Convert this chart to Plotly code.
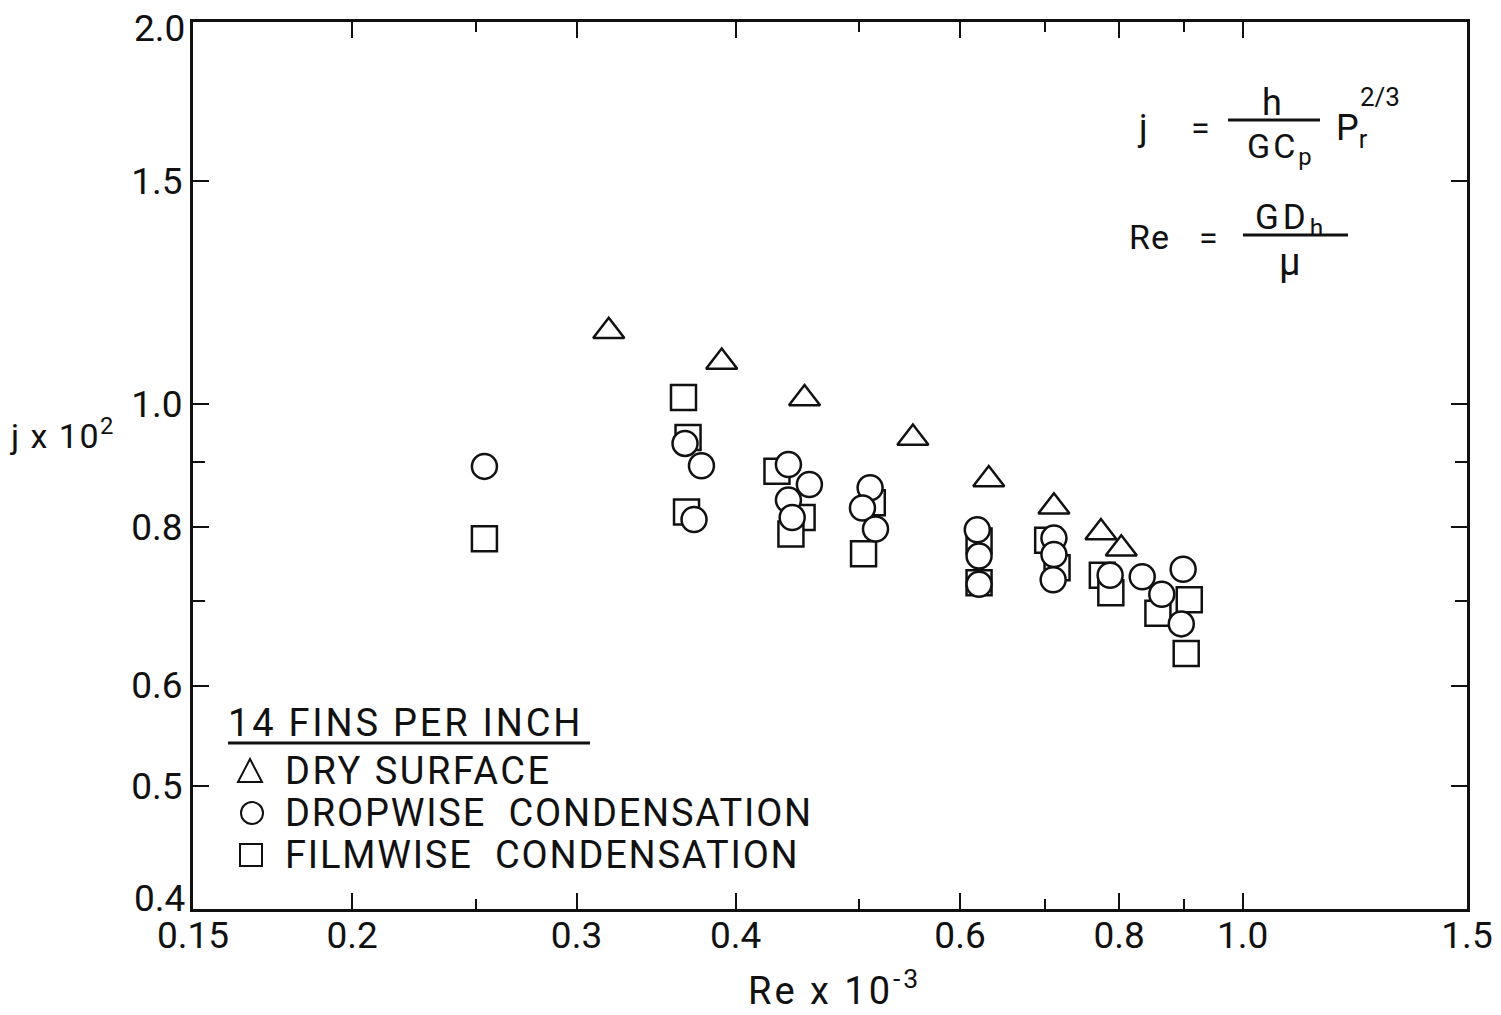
import math
import plotly.graph_objects as go

# Colburn j-factor vs. Reynolds number, 14 fins per inch
dry_re = [0.318, 0.390, 0.453, 0.551, 0.632, 0.711, 0.774, 0.803]
dry_j = [1.141, 1.079, 1.010, 0.940, 0.872, 0.830, 0.792, 0.769]

drop_re = [0.254, 0.365, 0.376, 0.371, 0.440, 0.457, 0.440, 0.443, 0.510, 0.503, 0.515,
           0.619, 0.621, 0.621, 0.711, 0.711, 0.710, 0.787, 0.834, 0.864, 0.898, 0.895]
drop_j = [0.893, 0.931, 0.894, 0.811, 0.896, 0.864, 0.840, 0.814, 0.859, 0.828, 0.797,
          0.796, 0.759, 0.721, 0.784, 0.761, 0.727, 0.733, 0.731, 0.708, 0.741, 0.671]

film_re = [0.254, 0.364, 0.367, 0.366, 0.431, 0.451, 0.442, 0.512, 0.504,
           0.621, 0.621, 0.703, 0.715, 0.776, 0.788, 0.858, 0.908, 0.903]
film_j = [0.783, 1.012, 0.941, 0.822, 0.885, 0.814, 0.790, 0.836, 0.762,
          0.780, 0.723, 0.781, 0.743, 0.733, 0.710, 0.684, 0.701, 0.636]

x_major = [0.15, 0.2, 0.3, 0.4, 0.6, 0.8, 1.0, 1.5]
x_major_text = ["0.15", "0.2", "0.3", "0.4", "0.6", "0.8", "1.0", "1.5"]
x_minor = [0.25, 0.5, 0.7, 0.9]
# the end labels of the j axis sit just inside the frame corners
y_major = [0.4, 0.5, 0.6, 0.8, 1.0, 1.5, 2.0]
y_major_text = ["", "0.5", "0.6", "0.8", "1.0", "1.5", ""]
y_end_labels = [("0.4", 0.4, 11), ("2.0", 2.0, -6)]
y_minor = [0.7, 0.9]

W, H = 1501, 1015
L, R, T, B = 193, 34, 22, 106
PW, PH = W - L - R, H - T - B
Y_LO, Y_HI = 0.4, 2.0

FONT = "Roboto"
INK = "#111111"


def px(x):
    return (x - L) / PW


def py(y):
    return (H - B - y) / PH


def spaced(s, sp):
    return f'<span style="letter-spacing:{sp}px">{s}</span>'


marker_line = dict(color=INK, width=2.5)

fig = go.Figure()
fig.add_trace(go.Scatter(x=film_re, y=film_j, mode="markers", name="FILMWISE CONDENSATION",
                         marker=dict(symbol="square", size=25, color="white", line=marker_line)))
fig.add_trace(go.Scatter(x=drop_re, y=drop_j, mode="markers", name="DROPWISE CONDENSATION",
                         marker=dict(symbol="circle", size=25, color="white", line=marker_line)))
fig.add_trace(go.Scatter(x=dry_re, y=dry_j, mode="markers", name="DRY SURFACE",
                         marker=dict(symbol="triangle-up", size=27, color="white", line=marker_line)))

axis_common = dict(
    type="log", showline=True, linewidth=3, linecolor=INK, mirror="ticks",
    ticks="inside", ticklen=16, tickwidth=2, tickcolor=INK,
    showgrid=False, zeroline=False, tickmode="array", automargin=False,
    tickfont=dict(family=FONT, size=37, color=INK),
)

fig.update_xaxes(**axis_common, range=[math.log10(0.15), math.log10(1.5)],
                 tickvals=x_major, ticktext=x_major_text, ticklabelstandoff=-8,
                 minor=dict(tickmode="array", tickvals=x_minor, ticks="inside",
                            ticklen=10, tickwidth=2, tickcolor=INK, showgrid=False))
fig.update_yaxes(**axis_common, range=[math.log10(Y_LO), math.log10(Y_HI)],
                 tickvals=y_major, ticktext=y_major_text,
                 minor=dict(tickmode="array", tickvals=y_minor, ticks="inside",
                            ticklen=12, tickwidth=2, tickcolor=INK, showgrid=False))

annotations = []
shapes = []


def text(s, x, y, size, anchor="center", sp=0):
    annotations.append(dict(text=spaced(s, sp) if sp else s, x=px(x), y=py(y),
                            xref="paper", yref="paper",
                            xanchor=anchor, yanchor="middle", showarrow=False,
                            font=dict(family=FONT, size=size, color=INK)))


def hline(x0, x1, y, w=3):
    shapes.append(dict(type="line", xref="paper", yref="paper",
                       x0=px(x0), x1=px(x1), y0=py(y), y1=py(y),
                       line=dict(color=INK, width=w)))


# end labels of the j axis, nudged into the frame
for label, val, nudge in y_end_labels:
    frac = math.log10(val / Y_LO) / math.log10(Y_HI / Y_LO)
    annotations.append(dict(text=label, x=0, y=frac, xref="paper", yref="paper",
                            xanchor="right", yanchor="middle", xshift=-6, yshift=nudge,
                            showarrow=False, font=dict(family=FONT, size=37, color=INK)))

# axis titles
text("j x 10<sup>2</sup>", 62, 434, 34, sp=1.5)
text("Re x 10<sup>-3</sup>", 834, 988, 38, sp=3)

# defining relations
text("j", 1142, 128, 36)
text("=", 1200, 128, 34)
text("h", 1272, 103, 36)
hline(1228, 1320, 120)
text("GC<sub>p</sub>", 1281, 148, 34, sp=3)
text("P<sub>r</sub>", 1352, 130, 36)
text("2/3", 1380, 97, 26)
text("Re", 1149, 237, 34, sp=1)
text("=", 1208, 238, 34)
text("GD<sub>h</sub>", 1291, 219, 35, sp=4)
hline(1243, 1348, 235)
text("μ", 1290, 262, 38)

# key
text("14 FINS PER INCH", 226, 723, 38, "left", sp=2.8)
hline(228, 590, 743)
text("DRY SURFACE", 283, 771, 38, "left", sp=2.5)
text("DROPWISE  CONDENSATION", 283, 813, 38, "left", sp=1.8)
text("FILMWISE  CONDENSATION", 283, 855, 38, "left", sp=1.8)

shapes.append(dict(type="path", xref="paper", yref="paper",
                   path=f"M {px(238)},{py(782)} L {px(262)},{py(782)} L {px(250)},{py(759)} Z",
                   line=dict(color=INK, width=2), fillcolor="white"))
shapes.append(dict(type="circle", xref="paper", yref="paper",
                   x0=px(241), x1=px(263), y0=py(824), y1=py(802),
                   line=dict(color=INK, width=2), fillcolor="white"))
shapes.append(dict(type="rect", xref="paper", yref="paper",
                   x0=px(240), x1=px(262), y0=py(866), y1=py(844),
                   line=dict(color=INK, width=2), fillcolor="white"))

fig.update_layout(
    width=W, height=H, autosize=False,
    margin=dict(l=L, r=R, t=T, b=B),
    paper_bgcolor="white", plot_bgcolor="white",
    showlegend=False,
    annotations=annotations, shapes=shapes,
    font=dict(family=FONT, color=INK),
)

fig.write_html("out.html")
